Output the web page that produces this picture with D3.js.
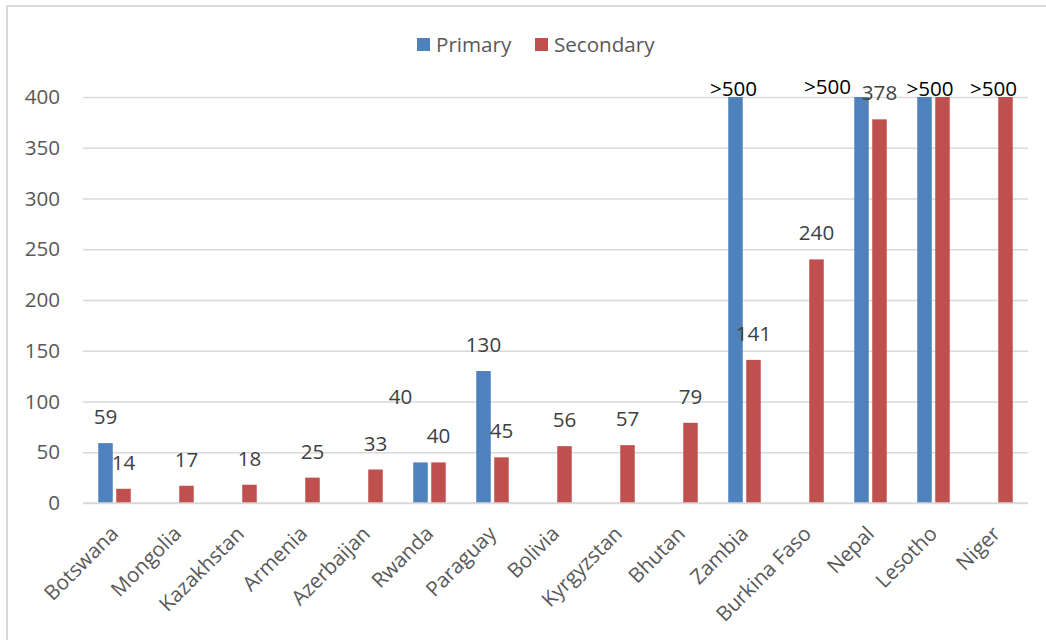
<!DOCTYPE html>
<html>
<head>
<meta charset="utf-8">
<script src="https://cdn.jsdelivr.net/npm/d3@7"></script>
<style>
  html, body { margin: 0; padding: 0; background: #fff; }
  svg { display: block; font-family: "Open Sans", sans-serif; }
</style>
</head>
<body>
<div id="container"></div>
<script>
// data (values of 500 mean ">500", above the axis top)
const categories = ["Botswana", "Mongolia", "Kazakhstan", "Armenia", "Azerbaijan", "Rwanda", "Paraguay",
  "Bolivia", "Kyrgyzstan", "Bhutan", "Zambia", "Burkina Faso", "Nepal", "Lesotho", "Niger"];
const primary   = [59, null, null, null, null, 40, 130, null, null, null, 500, null, 500, 500, null];
const secondary = [14, 17, 18, 25, 33, 40, 45, 56, 57, 79, 141, 240, 378, 500, 500];
const seriesNames = ["Primary", "Secondary"];
const yTicks = [0, 50, 100, 150, 200, 250, 300, 350, 400];

const width = 1046, height = 640;
const plot = {left: 83, right: 1028, top: 97, bottom: 503};
const fontSize = "20.6px";

// hand-moved labels, like in the original workbook
const labelNudge = {
  "Rwanda|Primary": [-20, -39],
  "Zambia|Primary": [-2, 0],
  "Nepal|Primary": [-34, -2],
  "Lesotho|Primary": [5.5, 0],
  "Niger|Secondary": [-12, 0]
};
// labels hidden under another one
const hiddenLabels = ["Lesotho|Secondary"];

const colorScale = d3.scaleOrdinal().domain(seriesNames).range(["#4F81BD", "#C0504D"]);

const xScale = d3.scaleBand().domain(categories).range([plot.left, plot.right]).padding(0);
const xInner = d3.scaleBand().domain(seriesNames).range([-16.25, 16.25]).paddingInner(0.194);
const yScale = d3.scaleLinear().domain([0, 400]).range([plot.bottom, plot.top]).clamp(true);

const svg = d3.select("#container").append("svg")
  .attr("width", width)
  .attr("height", height);

// chart border
svg.append("rect")
  .attr("x", 7).attr("y", 6)
  .attr("width", 1100).attr("height", 700)
  .attr("fill", "none")
  .attr("stroke", "#D9D9D9")
  .attr("stroke-width", 2);

// gridlines + y labels
const yAxis = d3.axisLeft(yScale).tickValues(yTicks)
  .tickSize(-(plot.right - plot.left)).tickPadding(23);

svg.append("g")
  .attr("transform", `translate(${plot.left},0)`)
  .call(yAxis)
  .call(g => g.select(".domain").remove())
  .call(g => g.selectAll(".tick line").attr("stroke", "#D9D9D9").attr("stroke-width", 1.3))
  .call(g => g.selectAll(".tick text")
    .attr("fill", "#595959")
    .style("font-size", fontSize)
    .style("font-family", "Open Sans, sans-serif"));

// bars
const rows = categories.map((c, i) => ({cat: c, values: [
  {cat: c, series: "Primary", value: primary[i]},
  {cat: c, series: "Secondary", value: secondary[i]}
].filter(d => d.value != null)}));

const group = svg.selectAll(".cat")
  .data(rows)
  .enter().append("g")
  .attr("class", "cat")
  .attr("transform", d => `translate(${xScale(d.cat) + xScale.bandwidth() / 2},0)`);

group.selectAll("rect")
  .data(d => d.values)
  .enter().append("rect")
  .attr("x", d => xInner(d.series))
  .attr("width", xInner.bandwidth())
  .attr("y", d => yScale(d.value))
  .attr("height", d => yScale(0) - yScale(d.value))
  .attr("fill", d => colorScale(d.series));

// data labels
const nudge = d => labelNudge[d.cat + "|" + d.series] || [0, 0];
group.selectAll("text.lbl")
  .data(d => d.values.filter(v => !hiddenLabels.includes(v.cat + "|" + v.series)))
  .enter().append("text")
  .attr("class", "lbl")
  .attr("text-anchor", "middle")
  .attr("x", d => xInner(d.series) + xInner.bandwidth() / 2 + nudge(d)[0])
  .attr("y", d => (d.value >= 500 ? yScale(d.value) - 1 : yScale(d.value) - 19) + nudge(d)[1])
  .attr("fill", d => d.value >= 500 ? "#000" : "#404040")
  .style("font-size", fontSize)
  .text(d => d.value >= 500 ? ">500" : d.value);

// baseline
svg.append("line")
  .attr("x1", plot.left).attr("x2", plot.right)
  .attr("y1", yScale(0)).attr("y2", yScale(0))
  .attr("stroke", "#D9D9D9").attr("stroke-width", 1.5);

// category labels
svg.selectAll(".catlbl")
  .data(categories)
  .enter().append("text")
  .attr("class", "catlbl")
  .attr("text-anchor", "end")
  .attr("fill", "#595959")
  .style("font-size", fontSize)
  .attr("transform", d => `translate(${xScale(d) + xScale.bandwidth() / 2 + 5},${plot.bottom + 32}) rotate(-45)`)
  .text(d => d);

// legend
const legend = svg.append("g").attr("class", "legend");
const legendX = [417, 535];
seriesNames.forEach((s, i) => {
  legend.append("rect")
    .attr("x", legendX[i]).attr("y", 38)
    .attr("width", 13).attr("height", 13)
    .attr("fill", colorScale(s));
  legend.append("text")
    .attr("x", legendX[i] + 19).attr("y", 51.5)
    .attr("fill", "#595959")
    .style("font-size", fontSize)
    .text(s);
});
</script>
</body>
</html>
